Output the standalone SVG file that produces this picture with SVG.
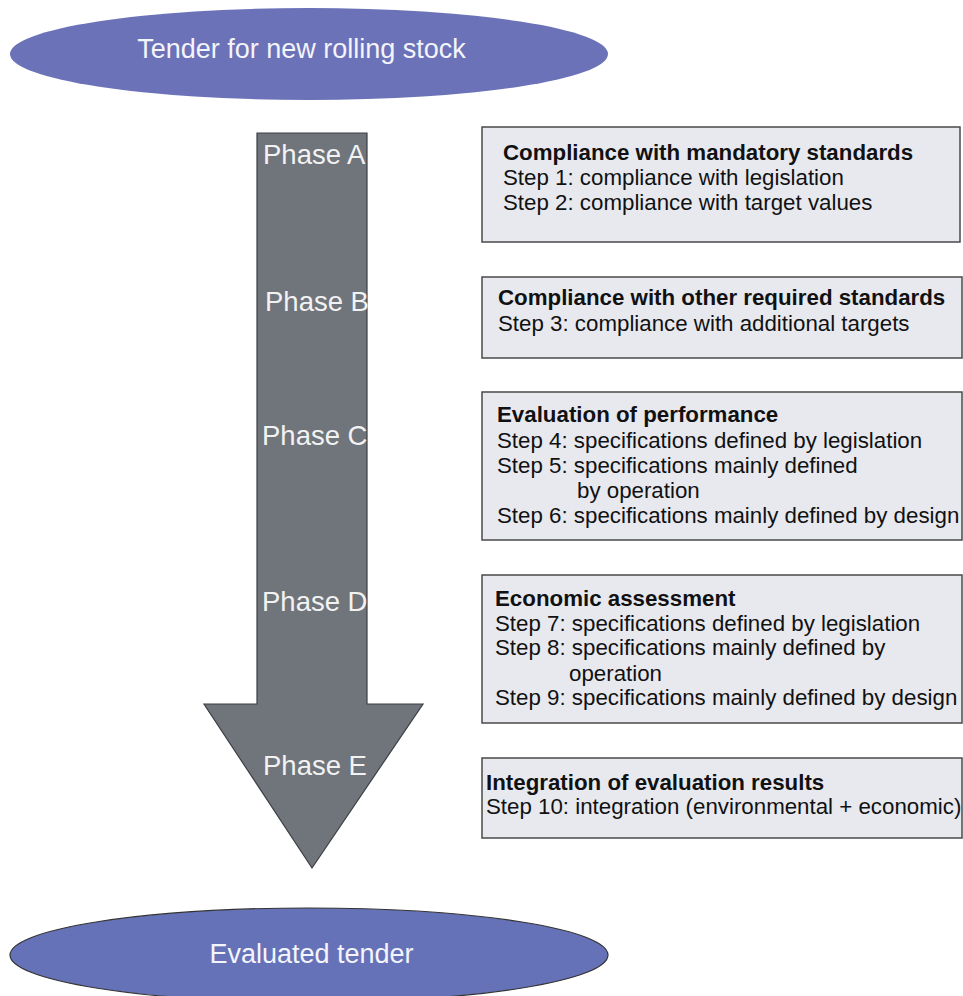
<svg xmlns="http://www.w3.org/2000/svg" width="963" height="996" viewBox="0 0 963 996">
<style>
.ell{fill:#6b72b8;}
.ellb{fill:#6672b8;stroke:#333;stroke-width:1.2;}
.et{font-family:"Liberation Sans",Arial,sans-serif;font-size:27px;fill:#f4f4fb;text-anchor:middle;}
.arrow{fill:#70747b;stroke:#3c3f44;stroke-width:1.2;}
.ph{font-family:"Liberation Sans",Arial,sans-serif;font-size:27.5px;fill:#f2f2f2;}
.box{fill:#e8e9ef;stroke:#4a4a4a;stroke-width:1.5;}
.t{font-family:"Liberation Sans",Arial,sans-serif;font-size:22.3px;fill:#111;}
.b{font-weight:bold;}
</style>
<g id="start">
<ellipse class="ell" cx="309" cy="54" rx="299" ry="46"/>
<text class="et" x="301.5" y="58">Tender for new rolling stock</text>
</g>
<g id="connectors">
<path class="arrow" d="M257,133 L367,133 L367,704 L423,704 L312,868 L204,704 L257,704 Z"/>
<text class="ph" x="263" y="164">Phase A</text>
<text class="ph" x="265" y="311">Phase B</text>
<text class="ph" x="262" y="445">Phase C</text>
<text class="ph" x="262" y="611">Phase D</text>
<text class="ph" x="263" y="775">Phase E</text>
</g>
<g id="box1">
<rect class="box" x="482" y="127" width="478" height="115"/>
<text class="t b" x="503" y="160">Compliance with mandatory standards</text>
<text class="t" x="503" y="185">Step 1: compliance with legislation</text>
<text class="t" x="503" y="210">Step 2: compliance with target values</text>
</g>
<g id="box2">
<rect class="box" x="482" y="277" width="480" height="81"/>
<text class="t b" x="498" y="305">Compliance with other required standards</text>
<text class="t" x="498" y="331">Step 3: compliance with additional targets</text>
</g>
<g id="box3">
<rect class="box" x="482" y="392" width="480" height="148"/>
<text class="t b" x="497" y="422">Evaluation of performance</text>
<text class="t" x="497" y="448">Step 4: specifications defined by legislation</text>
<text class="t" x="497" y="473">Step 5: specifications mainly defined</text>
<text class="t" x="577" y="498">by operation</text>
<text class="t" x="497" y="523">Step 6: specifications mainly defined by design</text>
</g>
<g id="box4">
<rect class="box" x="482" y="575" width="480" height="148"/>
<text class="t b" x="495" y="606">Economic assessment</text>
<text class="t" x="495" y="631">Step 7: specifications defined by legislation</text>
<text class="t" x="495" y="655">Step 8: specifications mainly defined by</text>
<text class="t" x="569" y="681">operation</text>
<text class="t" x="495" y="705">Step 9: specifications mainly defined by design</text>
</g>
<g id="box5">
<rect class="box" x="482" y="758" width="480" height="80"/>
<text class="t b" x="486" y="790">Integration of evaluation results</text>
<text class="t" x="486" y="814">Step 10: integration (environmental + economic)</text>
</g>
<g id="end">
<ellipse class="ellb" cx="309" cy="955" rx="299" ry="47"/>
<text class="et" x="311.5" y="963">Evaluated tender</text>
</g>
</svg>
